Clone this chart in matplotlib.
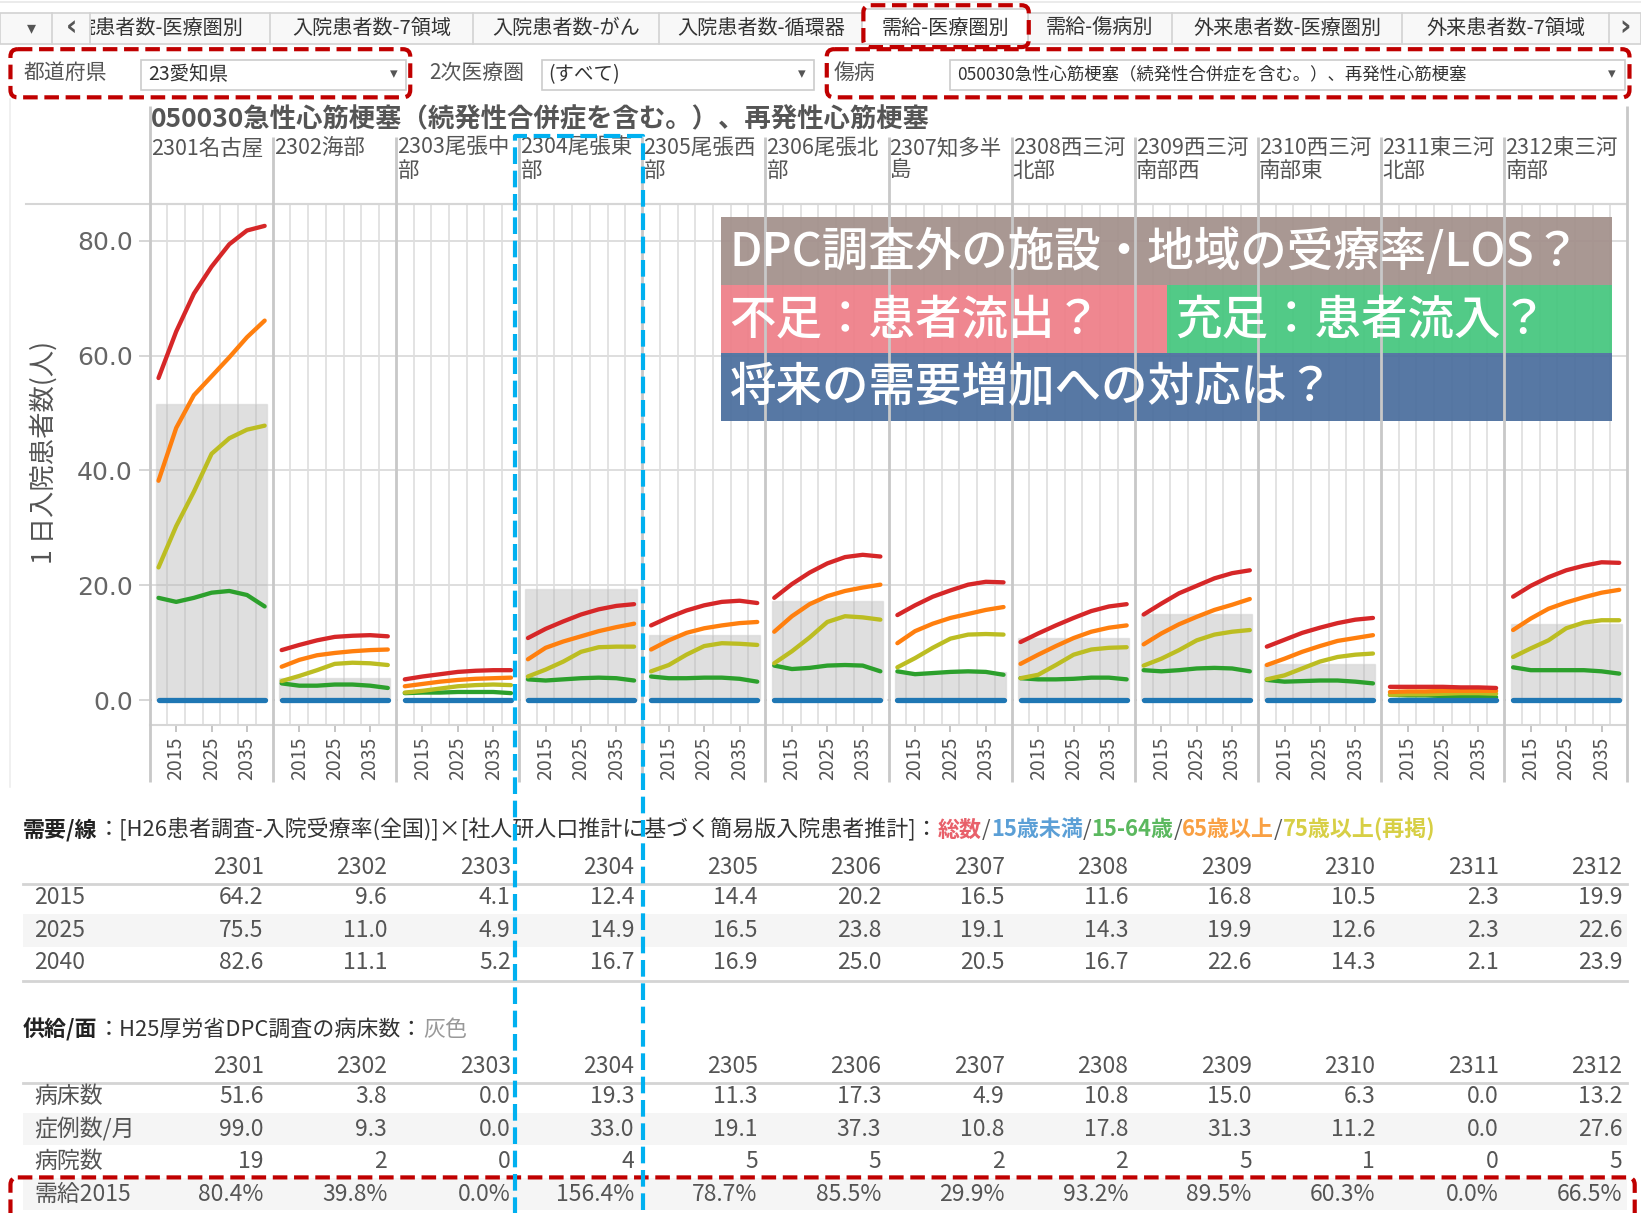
import matplotlib
matplotlib.use('Agg')
import matplotlib.pyplot as plt
from matplotlib.patches import Rectangle, FancyBboxPatch
import numpy as np

plt.rcParams['font.family'] = ['Noto Sans CJK JP', 'DejaVu Sans']

# ---------------- data ----------------
YEARS = [2010, 2015, 2020, 2025, 2030, 2035, 2040]
REGION_CODES = ['2301', '2302', '2303', '2304', '2305', '2306',
                '2307', '2308', '2309', '2310', '2311', '2312']
HEADER_LABELS = ['2301名古屋', '2302海部', '2303尾張中\n部', '2304尾張東\n部',
                 '2305尾張西\n部', '2306尾張北\n部', '2307知多半\n島', '2308西三河\n北部',
                 '2309西三河\n南部西', '2310西三河\n南部東', '2311東三河\n北部', '2312東三河\n南部']

TOTAL = [
    [56.1, 64.2, 70.8, 75.5, 79.4, 81.8, 82.6],
    [8.7, 9.6, 10.4, 11.0, 11.2, 11.3, 11.1],
    [3.6, 4.1, 4.5, 4.9, 5.1, 5.2, 5.2],
    [10.8, 12.4, 13.7, 14.9, 15.8, 16.4, 16.7],
    [13.0, 14.4, 15.6, 16.5, 17.1, 17.3, 16.9],
    [17.8, 20.2, 22.2, 23.8, 24.9, 25.3, 25.0],
    [14.8, 16.5, 18.0, 19.1, 20.1, 20.6, 20.5],
    [10.1, 11.6, 13.0, 14.3, 15.5, 16.3, 16.7],
    [14.9, 16.8, 18.6, 19.9, 21.2, 22.1, 22.6],
    [9.3, 10.5, 11.7, 12.6, 13.4, 14.0, 14.3],
    [2.3, 2.3, 2.3, 2.3, 2.2, 2.2, 2.1],
    [18.0, 19.9, 21.4, 22.6, 23.4, 24.0, 23.9],
]
AGE65 = [
    [38.2, 47.4, 53.1, 56.4, 59.7, 63.2, 66.1],
    [5.8, 7.0, 7.8, 8.2, 8.5, 8.7, 8.8],
    [2.4, 2.8, 3.2, 3.5, 3.7, 3.8, 3.9],
    [7.1, 9.1, 10.2, 11.1, 12.0, 12.7, 13.3],
    [8.8, 10.4, 11.7, 12.5, 13.0, 13.4, 13.6],
    [11.9, 14.6, 16.7, 18.1, 19.0, 19.6, 20.1],
    [9.9, 12.0, 13.3, 14.3, 15.0, 15.7, 16.2],
    [6.3, 7.9, 9.4, 10.8, 11.9, 12.6, 13.0],
    [9.7, 11.6, 13.2, 14.5, 15.7, 16.6, 17.6],
    [6.1, 7.2, 8.4, 9.4, 10.3, 10.8, 11.3],
    [1.4, 1.5, 1.5, 1.6, 1.6, 1.6, 1.6],
    [12.2, 14.2, 15.9, 17.0, 17.9, 18.7, 19.2],
]
AGE75 = [
    [23.1, 30.3, 36.3, 42.9, 45.6, 47.1, 47.8],
    [3.3, 4.2, 5.2, 6.3, 6.5, 6.4, 6.1],
    [1.3, 1.6, 2.0, 2.4, 2.6, 2.7, 2.6],
    [4.1, 5.3, 6.7, 8.4, 9.2, 9.3, 9.3],
    [5.0, 6.1, 7.9, 9.4, 9.9, 9.8, 9.6],
    [6.4, 8.5, 10.9, 13.6, 14.6, 14.4, 14.0],
    [5.7, 7.3, 9.1, 10.7, 11.4, 11.5, 11.4],
    [3.8, 4.4, 6.1, 7.9, 8.8, 9.1, 9.2],
    [6.0, 7.2, 8.7, 10.4, 11.4, 11.9, 12.2],
    [3.6, 4.3, 5.5, 6.7, 7.5, 7.9, 8.1],
    [0.9, 1.0, 1.0, 1.1, 1.2, 1.2, 1.1],
    [7.5, 9.0, 10.4, 12.5, 13.5, 13.9, 13.9],
]
AGE15_64 = [
    [17.8, 17.1, 17.8, 18.7, 19.0, 18.3, 16.3],
    [2.9, 2.5, 2.5, 2.7, 2.7, 2.5, 2.1],
    [1.2, 1.3, 1.3, 1.4, 1.4, 1.4, 1.2],
    [3.6, 3.4, 3.6, 3.8, 3.9, 3.8, 3.4],
    [4.1, 3.8, 3.8, 3.9, 3.9, 3.7, 3.2],
    [6.0, 5.4, 5.6, 6.0, 6.1, 6.0, 5.0],
    [5.0, 4.5, 4.7, 4.9, 5.0, 4.9, 4.4],
    [3.8, 3.6, 3.6, 3.7, 3.9, 3.9, 3.6],
    [5.2, 5.0, 5.2, 5.5, 5.6, 5.5, 5.0],
    [3.5, 3.2, 3.3, 3.4, 3.4, 3.2, 2.9],
    [0.9, 0.8, 0.8, 0.7, 0.6, 0.6, 0.5],
    [5.7, 5.2, 5.2, 5.2, 5.2, 5.0, 4.6],
]
UNDER15 = [
    [0.0, 0.0, 0.0, 0.0, 0.0, 0.0, 0.0],
    [0.0, 0.0, 0.0, 0.0, 0.0, 0.0, 0.0],
    [0.0, 0.0, 0.0, 0.0, 0.0, 0.0, 0.0],
    [0.0, 0.0, 0.0, 0.0, 0.0, 0.0, 0.0],
    [0.0, 0.0, 0.0, 0.0, 0.0, 0.0, 0.0],
    [0.0, 0.0, 0.0, 0.0, 0.0, 0.0, 0.0],
    [0.0, 0.0, 0.0, 0.0, 0.0, 0.0, 0.0],
    [0.0, 0.0, 0.0, 0.0, 0.0, 0.0, 0.0],
    [0.0, 0.0, 0.0, 0.0, 0.0, 0.0, 0.0],
    [0.0, 0.0, 0.0, 0.0, 0.0, 0.0, 0.0],
    [0.0, 0.0, 0.0, 0.0, 0.0, 0.0, 0.0],
    [0.0, 0.0, 0.0, 0.0, 0.0, 0.0, 0.0],
]

DEMAND_ROW_LABELS = ['2015', '2025', '2040']
DEMAND_2015 = ['64.2', '9.6', '4.1', '12.4', '14.4', '20.2', '16.5', '11.6', '16.8', '10.5', '2.3', '19.9']
DEMAND_2025 = ['75.5', '11.0', '4.9', '14.9', '16.5', '23.8', '19.1', '14.3', '19.9', '12.6', '2.3', '22.6']
DEMAND_2040 = ['82.6', '11.1', '5.2', '16.7', '16.9', '25.0', '20.5', '16.7', '22.6', '14.3', '2.1', '23.9']

SUPPLY_ROW_LABELS = ['病床数', '症例数/月', '病院数', '需給2015']
BEDS = [51.6, 3.8, 0.0, 19.3, 11.3, 17.3, 4.9, 10.8, 15.0, 6.3, 0.0, 13.2]
CASES = ['99.0', '9.3', '0.0', '33.0', '19.1', '37.3', '10.8', '17.8', '31.3', '11.2', '0.0', '27.6']
HOSPITALS = ['19', '2', '0', '4', '5', '5', '2', '2', '5', '1', '0', '5']
RATIO2015 = ['80.4%', '39.8%', '0.0%', '156.4%', '78.7%', '85.5%', '29.9%', '93.2%', '89.5%', '60.3%', '0.0%', '66.5%']

TABS = ['入院患者数-7領域', '入院患者数-がん', '入院患者数-循環器', '需給-医療圏別',
        '需給-傷病別', '外来患者数-医療圏別', '外来患者数-7領域']
TITLE = '050030急性心筋梗塞（続発性合併症を含む。）、再発性心筋梗塞'
YLABEL = '1 日入院患者数(人)'
Y_TICKS = [0, 20, 40, 60, 80]
X_TICKS = [2015, 2025, 2035]

C_TOTAL, C_U15, C_1564, C_65, C_75 = '#d62728', '#1f77b4', '#2ca02c', '#ff7f0e', '#bcbd22'

# ---------------- figure ----------------
W, H = 1568.0, 1159.0
fig = plt.figure(figsize=(16.41, 12.13), dpi=100)
fig.patch.set_facecolor('white')


def fx(x):
    return x / W


def fy(y):
    return 1 - y / H


P_LEFT, P_RIGHT, P_TOP, P_BOT = 143.0, 1555.0, 195.0, 693.0
pw = (P_RIGHT - P_LEFT) / 12
edges = [P_LEFT + i * pw for i in range(13)]
YMIN, YMAX = -4.4, 86.4

for i in range(12):
    ax = fig.add_axes([fx(edges[i]), fy(P_BOT), pw / W, (P_BOT - P_TOP) / H])
    ax.set_xlim(2007.5, 2042.3)
    ax.set_ylim(YMIN, YMAX)
    for yv in Y_TICKS[1:]:
        ax.axhline(yv, color='#dedede', lw=1.4, zorder=0)
    for xv in np.arange(2012.5, 2040, 5):
        ax.axvline(xv, color='#dedede', lw=1.2, zorder=0)
    ax.bar(2025, BEDS[i], width=31.4, bottom=0, color='#b4b4b4', alpha=0.42,
           edgecolor='#cccccc', lw=1.0, zorder=1)
    ax.axhline(0, color='#777777', lw=1.3, ls=(0, (1, 3)), zorder=1.5)
    kw = dict(lw=3.1, solid_capstyle='round', solid_joinstyle='round')
    ax.plot(YEARS, AGE15_64[i], color=C_1564, zorder=3, **kw)
    ax.plot(YEARS, AGE75[i], color=C_75, zorder=3, **kw)
    ax.plot(YEARS, AGE65[i], color=C_65, zorder=3, **kw)
    ax.plot(YEARS, TOTAL[i], color=C_TOTAL, zorder=3, **kw)
    ax.plot(YEARS, UNDER15[i], color=C_U15, zorder=4, lw=3.8, solid_capstyle='round')
    for s in ['left', 'right']:
        ax.spines[s].set_visible(False)
    for s in ['top', 'bottom']:
        ax.spines[s].set_color('#d6d6d6')
        ax.spines[s].set_linewidth(1.5)
    ax.set_xticks(X_TICKS)
    ax.set_xticklabels([str(v) for v in X_TICKS], rotation=90, fontsize=14, color='#555555')
    ax.tick_params(axis='x', length=5, color='#bbbbbb', width=1.2, pad=3)
    if i == 0:
        ax.set_yticks(Y_TICKS)
        ax.set_yticklabels(['%.1f' % v for v in Y_TICKS], fontsize=18, color='#666666',
                           family='DejaVu Sans')
        ax.tick_params(axis='y', length=8, color='#d0d0d0', width=1.2, pad=4)
    else:
        ax.set_yticks([])
    ax.set_facecolor('white')

# ---------------- overlay ----------------
ov = fig.add_axes([0, 0, 1, 1], zorder=10)
ov.set_xlim(0, W)
ov.set_ylim(H, 0)
ov.axis('off')
ov.patch.set_alpha(0)

ov.plot([10, 10], [95, 752], color='#eeeeee', lw=1.2)
ov.plot([25, P_RIGHT], [P_TOP, P_TOP], color='#d6d6d6', lw=1.5)

for k, e in enumerate(edges):
    top = 101 if k in (0, 12) else 131
    ov.plot([e, e], [top, 747], color='#c8c8c8', lw=2.0, solid_capstyle='butt')

ov.text(P_LEFT + 1, 115, TITLE, fontsize=19, fontweight='bold', color='#555555',
        va='center', ha='left')
for i, lab in enumerate(HEADER_LABELS):
    ov.text(edges[i] + 1, 131, lab, fontsize=15.5, color='#555555', va='top', ha='left',
            linespacing=1.05)

ov.text(42, 432, YLABEL, fontsize=19, color='#555555', rotation=90, va='center', ha='center')

boxes = [
    (689, 207, 851, 65, '#a3908b', 'DPC調査外の施設・地域の受療率/LOS？'),
    (689, 272, 426, 65, '#ee7e88', '不足：患者流出？'),
    (1115, 272, 425, 65, '#45c67e', '充足：患者流入？'),
    (689, 337, 851, 65, '#4a6e9d', '将来の需要増加への対応は？'),
]
for (x0, y0, w, h, col, txt) in boxes:
    ov.add_patch(Rectangle((x0, y0), w, h, facecolor=col, edgecolor='none', alpha=0.93))
    ov.text(x0 + 8, y0 + h / 2 + 1, txt, fontsize=33.5, color='white', va='center', ha='left',
            fontweight='medium')

# ---------------- tab bar ----------------
ov.plot([0, W], [2, 2], color='#e8e8e8', lw=1.2)
ov.add_patch(Rectangle((0, 12), W, 30, facecolor='#f8f8f8', edgecolor='#d2d2d2', lw=1.2))
ov.text(72, 27, '院患者数-医療圏別', fontsize=14.5, color='#333333', va='center', ha='left')
ov.add_patch(Rectangle((1, 13), 86, 28, facecolor='#f8f8f8', edgecolor='none', zorder=3))
ov.text(30, 27, '▾', fontsize=13, color='#555555', va='center', ha='center', zorder=4,
        family='DejaVu Sans')
ov.text(68, 26, '‹', fontsize=20, color='#555555', va='center', ha='center', zorder=4,
        family='DejaVu Sans', fontweight='bold')
seps = [50, 86, 258, 452, 630, 824, 982, 1120, 1340, 1537]
for s in seps:
    ov.plot([s, s], [12, 42], color='#d2d2d2', lw=1.2, zorder=5)
ov.add_patch(Rectangle((824, 9), 158, 33, facecolor='white', edgecolor='#d2d2d2', lw=1.2, zorder=5))
tab_bounds = seps[2:]
for j, t in enumerate(TABS):
    cx = (tab_bounds[j] + tab_bounds[j + 1]) / 2
    ov.text(cx, 27, t, fontsize=14.5, color='#333333', va='center', ha='center', zorder=6)
ov.text(1553, 26, '›', fontsize=20, color='#555555', va='center', ha='center',
        family='DejaVu Sans', fontweight='bold', zorder=6)

ov.text(23, 70, '都道府県', fontsize=15, color='#555555', va='center', ha='left')
ov.add_patch(Rectangle((135, 57), 253, 29, facecolor='white', edgecolor='#cccccc', lw=1.2))
ov.text(142, 71, '23愛知県', fontsize=14, color='#333333', va='center', ha='left')
ov.text(376, 70, '▾', fontsize=11, color='#555555', va='center', ha='center', family='DejaVu Sans')

ov.text(410, 70, '2次医療圏', fontsize=15, color='#555555', va='center', ha='left')
ov.add_patch(Rectangle((518, 57), 260, 29, facecolor='white', edgecolor='#cccccc', lw=1.2))
ov.text(524, 71, '(すべて)', fontsize=14, color='#333333', va='center', ha='left')
ov.text(766, 70, '▾', fontsize=11, color='#555555', va='center', ha='center', family='DejaVu Sans')

ov.text(797, 70, '傷病', fontsize=15, color='#555555', va='center', ha='left')
ov.add_patch(Rectangle((908, 57), 645, 29, facecolor='white', edgecolor='#cccccc', lw=1.2))
ov.text(915, 71, TITLE, fontsize=12.5, color='#333333', va='center', ha='left')
ov.text(1540, 70, '▾', fontsize=11, color='#555555', va='center', ha='center', family='DejaVu Sans')

# ---------------- tables ----------------
renderer = fig.canvas.get_renderer()
px_per_unit = fig.bbox.width / W


def rich(x, y, parts, fs):
    for txt, col, wt in parts:
        t = ov.text(x, y, txt, color=col, fontsize=fs, fontweight=wt, va='center', ha='left')
        bb = t.get_window_extent(renderer=renderer)
        x += bb.width / px_per_unit


rich(22, 793, [('需要/線', '#222222', 'bold'),
               ('：[H26患者調査-入院受療率(全国)]×[社人研人口推計に基づく簡易版入院患者推計]：', '#333333', 'normal'),
               ('総数', '#e8606a', 'bold'), ('/', '#555555', 'normal'),
               ('15歳未満', '#5b9fd6', 'bold'), ('/', '#555555', 'normal'),
               ('15-64歳', '#5bb85f', 'bold'), ('/', '#555555', 'normal'),
               ('65歳以上', '#f9a043', 'bold'), ('/', '#555555', 'normal'),
               ('75歳以上(再掲)', '#d7cf45', 'bold')], 15.8)

rich(22, 984, [('供給/面', '#222222', 'bold'),
               ('：H25厚労省DPC調査の病床数：', '#333333', 'normal'),
               ('灰色', '#999999', 'normal')], 15.8)

col_right = [252 + 118 * k for k in range(12)]
TFS = 16.5
TCOL = '#555555'


def table(header_y, line_y, rows, row_labels, shaded, bottom_line=None):
    for k, code in enumerate(REGION_CODES):
        ov.text(col_right[k], header_y, code, fontsize=TFS, color=TCOL, va='center', ha='right')
    for r, (lab, vals) in enumerate(zip(row_labels, rows)):
        cy = line_y + 13 + 31 * r
        if r in shaded:
            ov.add_patch(Rectangle((22, cy - 15.5), 1533, 31, facecolor='#f5f5f5',
                                   edgecolor='none', zorder=0))
        ov.text(33, cy, lab, fontsize=TFS, color=TCOL, va='center', ha='left')
        for k, v in enumerate(vals):
            ov.text(col_right[k], cy, v, fontsize=TFS, color=TCOL, va='center', ha='right')
    ov.plot([22, 1555], [line_y, line_y], color='#d4d4d4', lw=2)
    if bottom_line is not None:
        ov.plot([22, 1555], [bottom_line, bottom_line], color='#d4d4d4', lw=2)


table(829, 845, [DEMAND_2015, DEMAND_2025, DEMAND_2040], DEMAND_ROW_LABELS, shaded=[1],
      bottom_line=937)
table(1019, 1035, [['%.1f' % b for b in BEDS], CASES, HOSPITALS, RATIO2015], SUPPLY_ROW_LABELS,
      shaded=[1, 3])

# ---------------- dashed highlight boxes ----------------
RED = '#c00000'
red_boxes = [(825, 5, 158, 40), (10, 47, 382, 46), (790, 47, 767, 46), (10, 1125, 1552, 50)]
for (x0, y0, w, h) in red_boxes:
    ov.add_patch(FancyBboxPatch((x0, y0), w, h, boxstyle='round,pad=0,rounding_size=7',
                                fill=False, edgecolor=RED, lw=3.0, ls=(0, (3.5, 1.6)), zorder=20))

BLUE = '#00b0f0'
ov.plot([492, 492, 614, 614], [H + 5, 130, 130, H + 5], color=BLUE, lw=3.0,
        ls=(0, (4, 1.6)), zorder=21)

fig.savefig('out.png', dpi=100, facecolor='white')
